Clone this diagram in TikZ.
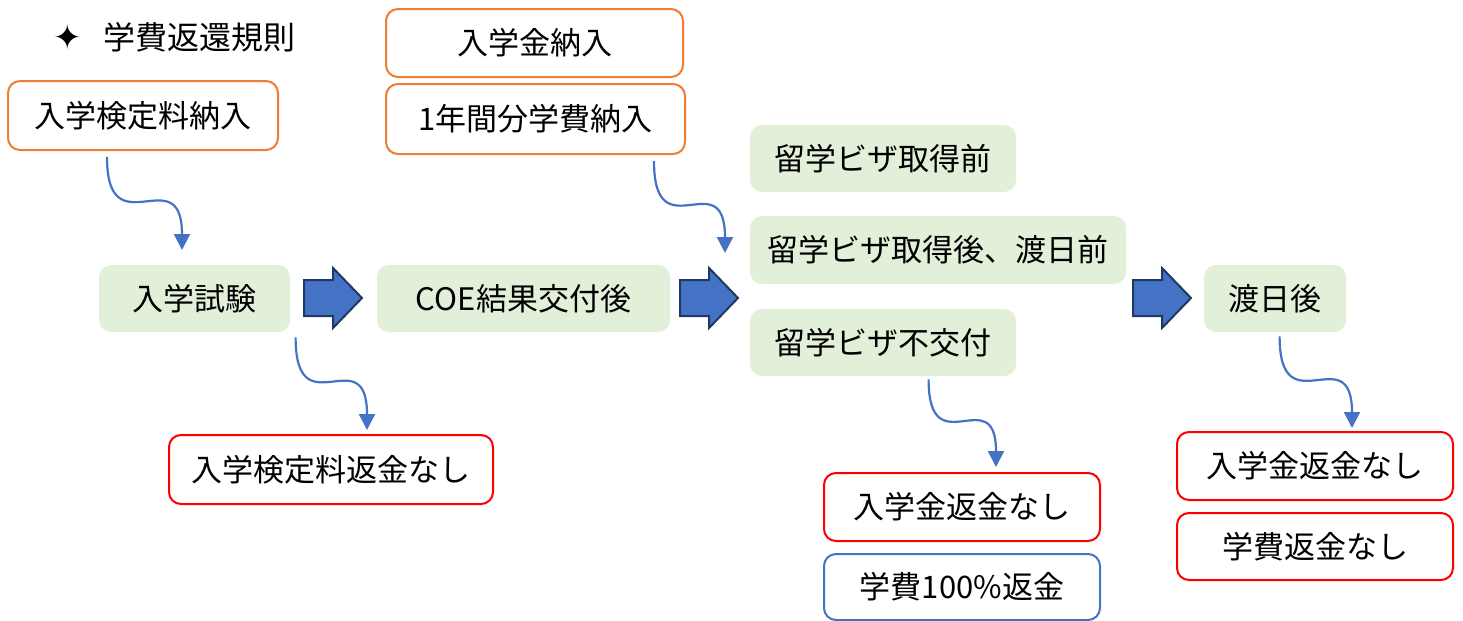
\documentclass[tikz,border=0pt]{standalone}
\usepackage{fontspec}
\setmainfont{Noto Sans CJK JP}
\newfontfamily\symfont{DejaVu Sans}
\usetikzlibrary{arrows.meta,calc}
\definecolor{boxorange}{HTML}{ED7D31}
\definecolor{boxgreen}{HTML}{E2F0D9}
\definecolor{boxred}{HTML}{FF0000}
\definecolor{boxblue}{HTML}{4472C4}
\definecolor{arrowedge}{HTML}{203864}
\tikzset{
  base/.style={rounded corners=6pt, align=center, inner sep=0pt, font=\fontsize{15.5pt}{18pt}\selectfont},
  orangebox/.style={base, draw=boxorange, line width=1pt, fill=white},
  greenbox/.style={base, fill=boxgreen},
  redbox/.style={base, draw=boxred, line width=1pt, fill=white},
  bluebox/.style={base, draw=boxblue, line width=1pt, fill=white},
  curvearrow/.style={draw=boxblue, line width=1.1pt, -{Triangle[width=8pt,length=8pt]}},
  blockarrow/.style={fill=boxblue, draw=arrowedge, line width=1pt, line join=miter}
}
\begin{document}
\begin{tikzpicture}[x=0.5pt,y=-0.5pt]
\useasboundingbox (0,0) rectangle (1463,621);
% title
\node[font=\symfont\fontsize{17pt}{19pt}\selectfont, inner sep=0pt] (star) at (68,37) {✦};
\node[font=\fontsize{16pt}{18pt}\selectfont, anchor=west, inner sep=0pt] (title) at (103,37) {学費返還規則};
% boxes
\node[orangebox, minimum width=135pt, minimum height=34.5pt] (fee) at (143,115.5) {入学検定料納入};
\node[orangebox, minimum width=148.5pt, minimum height=34pt] (entfee) at (534.5,43) {入学金納入};
\node[orangebox, minimum width=149.5pt, minimum height=35pt] (tuition) at (535.5,119) {1年間分学費納入};
\node[greenbox, minimum width=95.5pt, minimum height=33.5pt] (exam) at (194.5,298.5) {入学試験};
\node[greenbox, minimum width=146.5pt, minimum height=33.5pt] (coe) at (523.5,298.5) {COE結果交付後};
\node[greenbox, minimum width=133pt, minimum height=33.5pt] (before) at (883,158.5) {留学ビザ取得前};
\node[greenbox, minimum width=188pt, minimum height=34pt] (after) at (938,250) {留学ビザ取得後、渡日前};
\node[greenbox, minimum width=133pt, minimum height=33.5pt] (refused) at (883,342.5) {留学ビザ不交付};
\node[greenbox, minimum width=71pt, minimum height=33.5pt] (arrival) at (1275,298.5) {渡日後};
\node[redbox, minimum width=162pt, minimum height=34.5pt] (nofee) at (331,469.5) {入学検定料返金なし};
\node[redbox, minimum width=138pt, minimum height=34pt] (noent1) at (962,507) {入学金返金なし};
\node[bluebox, minimum width=138pt, minimum height=33pt] (full) at (962,587) {学費100\%返金};
\node[redbox, minimum width=138pt, minimum height=34pt] (noent2) at (1315,466) {入学金返金なし};
\node[redbox, minimum width=138pt, minimum height=33.5pt] (notuition) at (1315,546.5) {学費返金なし};
% block arrows
\coordinate (ba1) at (304,298);
\coordinate (ba2) at (680,298);
\coordinate (ba3) at (1133,298);
\foreach \c in {ba1,ba2,ba3}{
  \draw[blockarrow] ($(\c)+(0,-18)$) -- ++(29,0) -- ++(0,-12) -- ++(29,30) -- ++(-29,30) -- ++(0,-12) -- ++(-29,0) -- cycle;
}
% curved arrows
\coordinate (s1) at ($(fee.south west)+(100,6)$);
\coordinate (e1) at (182,250);
\coordinate (s2) at ($(tuition.south west)+(269,6)$);
\coordinate (e2) at (725,253);
\coordinate (s3) at ($(exam.south west)+(197,5)$);
\coordinate (e3) at (367,430);
\coordinate (s4) at ($(refused.south west)+(179,3)$);
\coordinate (e4) at (996,467);
\coordinate (s5) at ($(arrival.south west)+(76,4)$);
\coordinate (e5) at (1352,428);
\foreach \i in {1,...,5}{
  \draw[curvearrow] (s\i) .. controls (s\i |- e\i) and (e\i |- s\i) .. (e\i);
}
\end{tikzpicture}
\end{document}
